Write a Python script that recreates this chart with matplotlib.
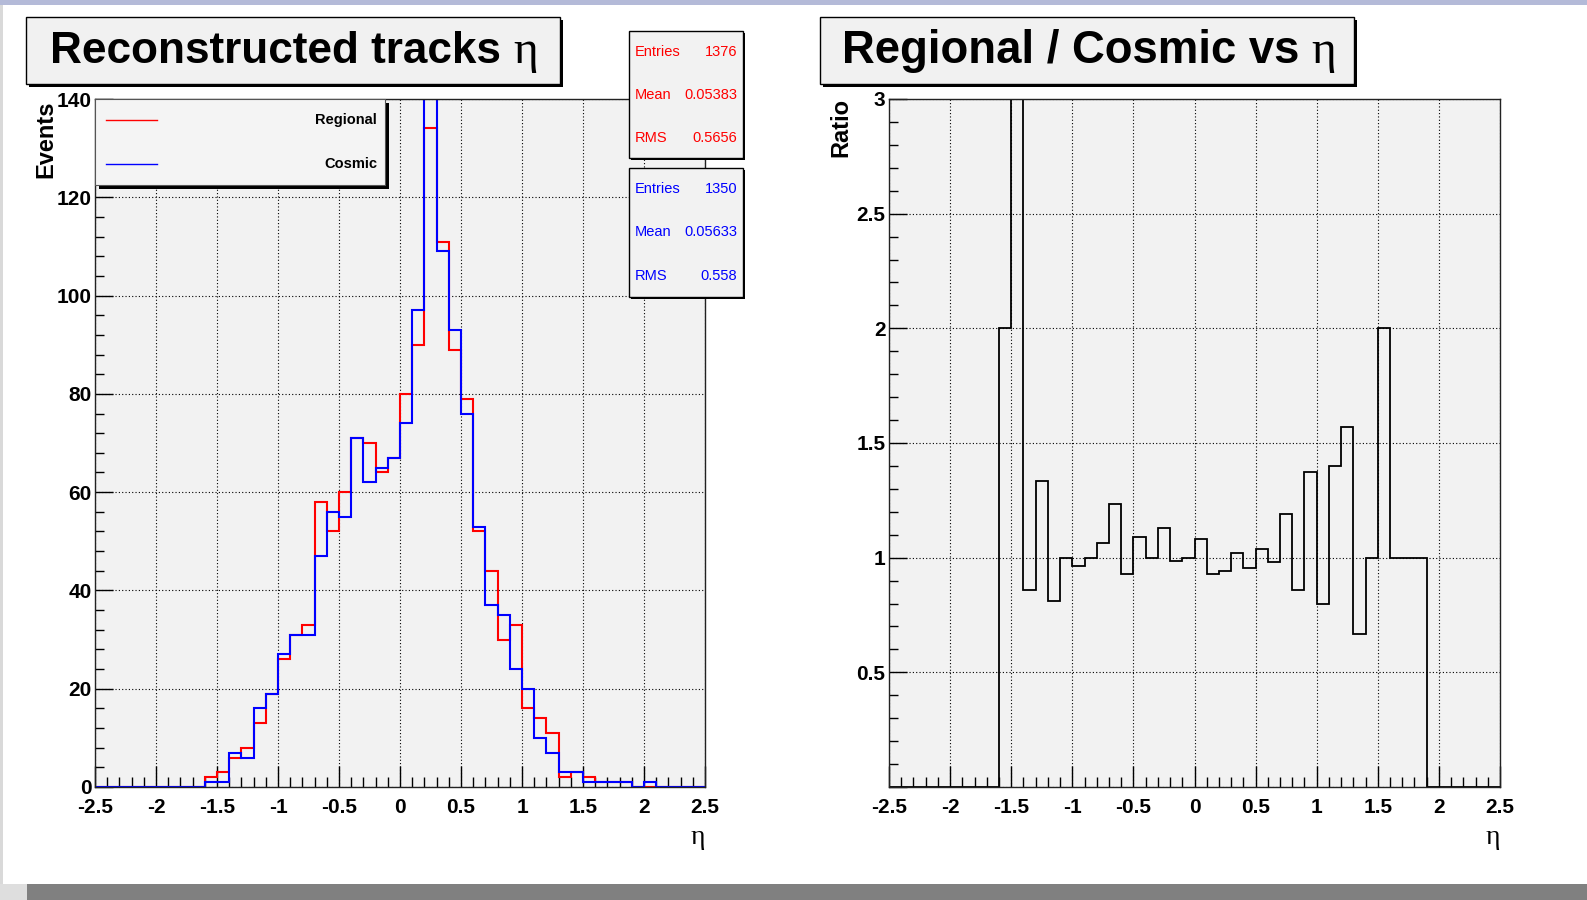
import numpy as np
import matplotlib
matplotlib.use("Agg")
import matplotlib.pyplot as plt
from matplotlib.patches import Rectangle
from matplotlib.lines import Line2D
from matplotlib.ticker import MultipleLocator, FuncFormatter

# eta binning: 50 bins from -2.5 to 2.5
edges = np.linspace(-2.5, 2.5, 51)

regional = [0, 0, 0, 0, 0, 0, 0, 0, 0, 2,
            3, 6, 8, 13, 19, 26, 31, 33, 58, 52,
            60, 71, 70, 64, 67, 80, 90, 134, 111, 89,
            79, 52, 44, 30, 33, 16, 14, 11, 2, 3,
            2, 1, 1, 1, 0, 0, 0, 0, 0, 0]
cosmic = [0, 0, 0, 0, 0, 0, 0, 0, 0, 1,
          1, 7, 6, 16, 19, 27, 31, 31, 47, 56,
          55, 71, 62, 65, 67, 74, 97, 142, 109, 93,
          76, 53, 37, 35, 24, 20, 10, 7, 3, 3,
          1, 1, 1, 1, 0, 1, 0, 0, 0, 0]

stat_names = ["Entries", "Mean", "RMS"]
regional_stats = ["1376", "0.05383", "0.5656"]
cosmic_stats = ["1350", "0.05633", "0.558"]

reg = np.array(regional, dtype=float)
cos = np.array(cosmic, dtype=float)
ratio = np.divide(reg, cos, out=np.zeros_like(reg), where=cos > 0)

W, H = 1587, 900
plt.rcParams["font.family"] = ["Liberation Sans", "DejaVu Sans"]
plt.rcParams["axes.unicode_minus"] = False

fig = plt.figure(figsize=(W / 100, H / 100), dpi=100)
fig.patch.set_facecolor("white")


def fx(x):
    return x / W


def fy(y):
    return 1 - y / H


def box(x0, y0, x1, y1, fill="#f2f2f2", shadow=3, edge="black", lw=1.0, z=5):
    if shadow:
        fig.add_artist(Rectangle((fx(x0 + shadow), fy(y1 + shadow)), (x1 - x0) / W, (y1 - y0) / H,
                                 transform=fig.transFigure, facecolor="black", edgecolor="none", zorder=z))
    fig.add_artist(Rectangle((fx(x0), fy(y1)), (x1 - x0) / W, (y1 - y0) / H,
                             transform=fig.transFigure, facecolor=fill, edgecolor=edge, lw=lw, zorder=z + 0.1))


# slide background strips
for (x0, y0, x1, y1, c) in [(0, 0, 1587, 5, "#b4bad8"), (0, 5, 3, 884, "#d9d9d9"),
                            (27, 884, 1587, 900, "#808080"), (0, 884, 27, 900, "#dedede")]:
    fig.add_artist(Rectangle((fx(x0), fy(y1)), (x1 - x0) / W, (y1 - y0) / H,
                             transform=fig.transFigure, facecolor=c, edgecolor="none", zorder=1))


def style_axes(ax, ymajor, yminor):
    ax.set_facecolor("#f2f2f2")
    ax.set_xlim(-2.5, 2.5)
    ax.xaxis.set_major_locator(MultipleLocator(0.5))
    ax.xaxis.set_minor_locator(MultipleLocator(0.1))
    ax.yaxis.set_major_locator(MultipleLocator(ymajor))
    ax.yaxis.set_minor_locator(MultipleLocator(yminor))
    ax.grid(True, which="major", color="black", lw=0.8, ls=(0, (1, 2)))
    ax.set_axisbelow(True)
    ax.tick_params(axis="x", which="major", direction="in", length=14.8, width=1, pad=8,
                   labelsize=15, top=False)
    ax.tick_params(axis="x", which="minor", direction="in", length=7.4, width=1, top=False)
    ax.tick_params(axis="y", which="major", direction="in", length=13.2, width=1, pad=2.5,
                   labelsize=15, right=False)
    ax.tick_params(axis="y", which="minor", direction="in", length=6.6, width=1, right=False)
    for s in ax.spines.values():
        s.set_color("#222222")
        s.set_linewidth(1.0)


# left pad: eta distributions
ax1 = fig.add_axes([fx(95), fy(787), 610 / W, 688 / H])
ax1.stairs(reg, edges, color="#ff0000", lw=1.5)
ax1.stairs(cos, edges, color="#0000ff", lw=1.5)
ax1.set_ylim(0, 140)
style_axes(ax1, 20, 4)
ax1.xaxis.set_major_formatter(FuncFormatter(lambda v, p: "%g" % v))
ax1.yaxis.set_major_formatter(FuncFormatter(lambda v, p: "%g" % v))

# right pad: ratio
ax2 = fig.add_axes([fx(889), fy(787), 611 / W, 688 / H])
ax2.stairs(ratio, edges, color="black", lw=1.3)
ax2.set_ylim(0, 3)
style_axes(ax2, 0.5, 0.1)
ax2.xaxis.set_major_formatter(FuncFormatter(lambda v, p: "%g" % v))
ax2.yaxis.set_major_formatter(FuncFormatter(lambda v, p: "" if abs(v) < 1e-9 else "%g" % v))

for ax in (ax1, ax2):
    for lab in ax.get_xticklabels() + ax.get_yticklabels():
        lab.set_fontweight("bold")

# axis titles
fig.text(fx(45.5), fy(101), "Events", rotation=90, ha="center", va="top", fontsize=17, fontweight="bold")
fig.text(fx(841), fy(98), "Ratio", rotation=90, ha="center", va="top", fontsize=17, fontweight="bold")
for x in (698, 1493):
    fig.text(fx(x), fy(838), "η", ha="center", va="center", fontsize=20, family=["Liberation Serif", "DejaVu Serif"])

# pad titles
renderer = fig.canvas.get_renderer()
for (x0, x1, tx, size, title) in [(26, 560, 50, 31.8, "Reconstructed tracks"),
                                  (820, 1354, 842, 32.8, "Regional / Cosmic vs")]:
    box(x0, 17, x1, 84, fill="#f1f1f1", shadow=3)
    t = fig.text(fx(tx), fy(63), title, ha="left", va="baseline", fontsize=size, fontweight="bold", zorder=6)
    bb = t.get_window_extent(renderer)
    fig.text(bb.x1 / W + 12 / W, fy(63), "η", ha="left", va="baseline", fontsize=34,
             family=["Liberation Serif", "DejaVu Serif"], zorder=6)

# legend
box(95, 99, 385, 185, fill="#f4f4f4", shadow=4, edge="#555555", lw=0.8)
for yy, name, col in [(120, "Regional", "#ff0000"), (164, "Cosmic", "#0000ff")]:
    fig.add_artist(Line2D([fx(106), fx(157)], [fy(yy), fy(yy)], color=col, lw=1.0, zorder=6))
    fig.text(fx(377), fy(yy), name, ha="right", va="center", fontsize=10.5, fontweight="bold", zorder=6)

# statistics boxes
for (y0, y1, rows, vals, col) in [(31, 158, (51.7, 95, 138.3), regional_stats, "#ff0000"),
                                  (168, 297, (189, 232, 275.7), cosmic_stats, "#0000ff")]:
    box(629, y0, 743, y1, fill="#f2f2f2", shadow=2, lw=1.0)
    for yy, name, val in zip(rows, stat_names, vals):
        fig.text(fx(635), fy(yy), name, ha="left", va="center", fontsize=10.5, color=col, zorder=6)
        fig.text(fx(737), fy(yy), val, ha="right", va="center", fontsize=10.5, color=col, zorder=6)

fig.savefig("out.png", dpi=100)
